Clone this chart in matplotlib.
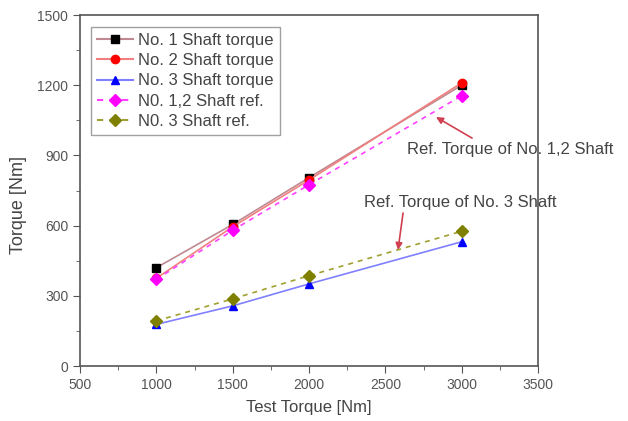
import matplotlib

matplotlib.use("Agg")

import matplotlib.pyplot as plt
from matplotlib.ticker import MultipleLocator

plt.rcParams["font.family"] = ["Liberation Sans", "DejaVu Sans"]

test_torque = [1000, 1500, 2000, 3000]
shaft1 = [420, 605, 805, 1200]
shaft2 = [375, 595, 795, 1210]
shaft3 = [178, 257, 351, 531]
ref12 = [370, 580, 775, 1155]
ref3 = [193, 287, 386, 576]

series = [
    ("No. 1 Shaft torque", shaft1, "black", "#c08890", "s", "-"),
    ("No. 2 Shaft torque", shaft2, "red", "#f08080", "o", "-"),
    ("No. 3 Shaft torque", shaft3, "blue", "#8080ff", "^", "-"),
    ("N0. 1,2 Shaft ref.", ref12, "magenta", "#ff40ff", "D", (0, (3, 3))),
    ("N0. 3 Shaft ref.", ref3, "#808000", "#a0a030", "D", (0, (3, 3))),
]

fig = plt.figure(figsize=(6.28, 4.21), dpi=100)
ax = fig.add_axes([0.1274, 0.1306, 0.7293, 0.8337])

for label, values, color, line_color, marker, ls in series:
    ax.plot(test_torque, values, color=line_color, linestyle=ls, linewidth=1.2)
    ax.plot(test_torque, values, color=color, marker=marker, linestyle="none", markersize=6)
    ax.plot([], [], color=line_color, linestyle=ls, marker=marker,
            markerfacecolor=color, markeredgecolor=color, markersize=6, label=label)

ax.set_xlim(500, 3500)
ax.set_ylim(0, 1500)
ax.xaxis.set_major_locator(MultipleLocator(500))
ax.xaxis.set_minor_locator(MultipleLocator(250))
ax.yaxis.set_major_locator(MultipleLocator(300))
ax.yaxis.set_minor_locator(MultipleLocator(150))
ax.tick_params(which="both", direction="out", top=False, right=False,
               labelsize=10, labelcolor="#555555", color="#555555")
ax.tick_params(which="major", length=5)
ax.tick_params(which="minor", length=3)
for spine in ax.spines.values():
    spine.set_color("#555555")
    spine.set_linewidth(1.2)

ax.set_xlabel("Test Torque [Nm]", fontsize=12, color="#444444", labelpad=6)
ax.set_ylabel("Torque [Nm]", fontsize=13, color="#444444")
ax.yaxis.set_label_coords(-0.115, 0.46)

ax.legend(loc="upper left", bbox_to_anchor=(0.024, 0.966), fontsize=12,
          frameon=True, fancybox=False, edgecolor="#888888",
          handlelength=2.2, borderpad=0.35, labelspacing=0.32, handletextpad=0.3,
          borderaxespad=0)
for text in ax.get_legend().get_texts():
    text.set_color("#444444")

ax.annotate("Ref. Torque of No. 1,2 Shaft", xy=(2832, 1064), xytext=(2642, 927),
            fontsize=12, color="#444444", annotation_clip=False,
            ha="left", va="center")
ax.annotate("", xy=(2832, 1064), xytext=(3068, 974), annotation_clip=False,
            arrowprops=dict(arrowstyle="-|>", color="#d04050", lw=1.2,
                            shrinkA=0, shrinkB=0))
ax.annotate("Ref. Torque of No. 3 Shaft", xy=(2583, 496), xytext=(2360, 697),
            fontsize=12, color="#444444", annotation_clip=False,
            ha="left", va="center")
ax.annotate("", xy=(2583, 496), xytext=(2616, 654), annotation_clip=False,
            arrowprops=dict(arrowstyle="-|>", color="#d04050", lw=1.2,
                            shrinkA=0, shrinkB=0))

fig.savefig("out.png", dpi=100)
